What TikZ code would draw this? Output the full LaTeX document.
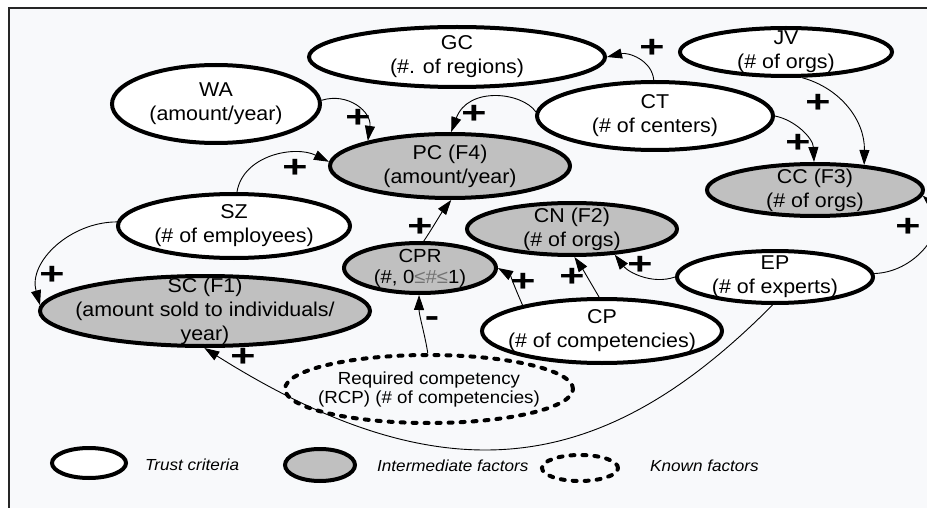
\documentclass[tikz,border=0pt]{standalone}
\usepackage{fontspec}
\usepackage{graphicx}
\setmainfont{Liberation Sans}[FakeStretch=1.07]
\usetikzlibrary{shapes.geometric,arrows.meta}
\definecolor{bgc}{RGB}{248,249,251}
\definecolor{midgray}{RGB}{192,192,192}
\begin{document}
\begin{tikzpicture}[x=1pt,y=-1pt,
  oval/.style 2 args={ellipse, draw, line width=4pt, inner sep=0pt, minimum width=#1, minimum height=#2},
  trust/.style={fill=white},
  inter/.style={fill=midgray},
  known/.style={line cap=round, dash pattern=on 4pt off 8pt},
  txt/.style={align=center, inner sep=0pt, font=\fontsize{20}{24}\selectfont},
  smalltxt/.style={align=center, inner sep=0pt, font=\fontsize{19}{21}\selectfont},
  legtxt/.style={anchor=west, inner sep=0pt, font=\fontsize{16}{18}\selectfont\itshape},
  conn/.style={line width=0.9pt, -{Triangle[length=15pt,width=10pt]}},
  sign/.style={inner sep=0pt, font=\fontsize{31}{31}\selectfont\bfseries}
]
\useasboundingbox (0,0) rectangle (927,508);
\fill[white] (0,0) rectangle (927,508);
\fill[bgc] (9,8) rectangle (927,508);
\draw[line width=1.3pt, black!85] (927,8) -- (9,8) -- (9,508);

% ellipses
\node[oval={296}{60}, trust] (GC) at (457,57) {};
\node[oval={208}{78}, trust] (WA) at (216,104) {};
\node[oval={212}{48}, trust] (JV) at (786,52) {};
\node[oval={236}{68}, trust] (CT) at (655,116) {};
\node[oval={240}{64}, inter] (PC) at (450,166) {};
\node[oval={216}{52}, inter] (CC) at (815,190) {};
\node[oval={210}{52}, inter] (CN) at (572,229) {};
\node[oval={232}{64}, trust] (SZ) at (234,226) {};
\node[oval={152}{50}, inter] (CPR) at (420,268) {};
\node[oval={330}{70}, inter] (SC) at (205,311) {};
\node[oval={196}{52}, trust] (EP) at (775,277) {};
\node[oval={240}{64}, trust] (CP) at (602,331) {};
\node[oval={288}{68}, known] (RCP) at (429,389) {};

% texts
\node[txt] (GCt) at (GC) {GC\\(\#. of regions)};
\node[txt] (WAt) at (WA) {WA\\(amount/year)};
\node[txt] (JVt) at (JV) {JV\\(\# of orgs)};
\node[txt] (CTt) at (CT) {CT\\(\# of centers)};
\node[txt] (PCt) at (PC) {PC (F4)\\(amount/year)};
\node[txt] (CCt) at (CC) {CC (F3)\\(\# of orgs)};
\node[txt] (CNt) at (CN) {CN (F2)\\(\# of orgs)};
\node[txt] (SZt) at (SZ) {SZ\\(\# of employees)};
\node[smalltxt] (CPRt) at (CPR) {CPR\\(\#, 0{\color{black!55}≤\#≤}1)};
\node[txt] (SCt) at (SC) {SC (F1)\\(amount sold to individuals/\\year)};
\node[txt] (EPt) at (EP) {EP\\(\# of experts)};
\node[txt] (CPt) at (CP) {CP\\(\# of competencies)};
\node[align=center, inner sep=0pt, font=\fontsize{17.5}{19}\selectfont] (RCPt) at (RCP) {Required competency\\(RCP) (\# of competencies)};

% connectors
\draw[conn] (WA.2) .. controls (348,92) and (372,112) .. (PC.163);
\draw[conn] (SZ.85) .. controls (243,155) and (295,145) .. (PC.178);
\draw[conn] (SZ.178) .. controls (70,222) and (28,262) .. (SC.178);
\draw[conn] (CT.178) .. controls (522,92) and (468,86) .. (PC.88);
\draw[conn] (CT.92) .. controls (652,60) and (628,52) .. (GC.0);
\draw[conn] (CT.0) .. controls (795,120) and (813,138) .. (CC.92);
\draw[conn] (JV.-58) .. controls (840,88) and (865,120) .. (CC.27);
\draw[conn] (EP.2) .. controls (920,272) and (950,222) .. (CC.-3);
\draw[conn] (EP.180) .. controls (652,285) and (628,272) .. (CN.-31);
\draw[conn] (CP.95) .. controls (592,285) and (582,268) .. (CN.-85);
\draw[conn] (CP.162) .. controls (515,288) and (510,275) .. (CPR.0);
\draw[conn] (CPR.82) .. controls (430,232) and (442,212) .. (PC.-88);
\draw[conn] (RCP.92) .. controls (425,335) and (419,315) .. (CPR.-92);
\draw[conn] (EP.-95) .. controls (609,470) and (452,504) .. (SC.-91);

% signs
\node[sign] (s1) at (358,118) {\scalebox{1.3}[1]{+}};
\node[sign] (s2) at (295,168) {\scalebox{1.3}[1]{+}};
\node[sign] (s3) at (52,275) {\scalebox{1.3}[1]{+}};
\node[sign] (s4) at (474,114) {\scalebox{1.3}[1]{+}};
\node[sign] (s5) at (652,48) {\scalebox{1.3}[1]{+}};
\node[sign] (s6) at (798,143) {\scalebox{1.3}[1]{+}};
\node[sign] (s7) at (818,103) {\scalebox{1.3}[1]{+}};
\node[sign] (s8) at (908,227) {\scalebox{1.3}[1]{+}};
\node[sign] (s9) at (640,265) {\scalebox{1.3}[1]{+}};
\node[sign] (s10) at (572,277) {\scalebox{1.3}[1]{+}};
\node[sign] (s11) at (523,282) {\scalebox{1.3}[1]{+}};
\node[sign] (s12) at (420,227) {\scalebox{1.3}[1]{+}};
\node[sign] (s13) at (432,322) {\scalebox{1.3}[1]{-}};
\node[sign] (s14) at (243,357) {\scalebox{1.3}[1]{+}};

% legend
\node[oval={74}{30}, trust] (L1) at (89,463) {};
\node[legtxt] (L1t) at (145,465) {Trust criteria};
\node[oval={70}{32}, inter] (L2) at (320,465) {};
\node[legtxt] (L2t) at (377,466) {Intermediate factors};
\node[oval={76}{26}, known] (L3) at (580,468) {};
\node[legtxt] (L3t) at (650,466) {Known factors};
\end{tikzpicture}
\end{document}
